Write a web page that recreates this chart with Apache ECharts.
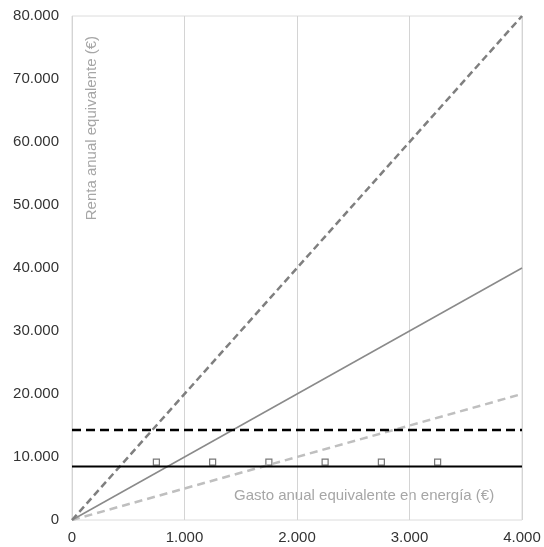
<!DOCTYPE html>
<html><head><meta charset="utf-8">
<script src="https://cdn.jsdelivr.net/npm/echarts@6/dist/echarts.min.js"></script>
<style>html,body{margin:0;padding:0;background:#fff}#c{width:544px;height:547px}</style>
</head><body><div id="c"></div>
<script>
const xTicks = [0, 1000, 2000, 3000, 4000];
const yTicks = [0, 10000, 20000, 30000, 40000, 50000, 60000, 70000, 80000];
const lineX = [0, 4000];
const steepDashed = [0, 80000];
const midSolid = [0, 40000];
const lowDashed = [0, 20000];
const blackDashed = [14300, 14300];
const blackSolid = [8500, 8500];
const markerX = [750, 1250, 1750, 2250, 2750, 3250];
const markerY = [9200, 9200, 9200, 9200, 9200, 9200];
const yTitle = 'Renta anual equivalente (€)';
const xTitle = 'Gasto anual equivalente en energía (€)';

const fmt = v => String(v).replace(/\B(?=(\d{3})+(?!\d))/g, '.');
const pairs = (xs, ys) => xs.map((x, i) => [x, ys[i]]);

const chart = echarts.init(document.getElementById('c'));
chart.setOption({
  animation: false,
  grid: {left: 72, right: 22, top: 16, bottom: 27, show: true, borderColor: '#dcdcdc', borderWidth: 1},
  xAxis: {type: 'value', min: xTicks[0], max: xTicks[xTicks.length-1], interval: 1000,
    axisLine: {show: false}, axisTick: {show: false},
    splitLine: {show: true, lineStyle: {color: '#d4d4d4', width: 1}},
    axisLabel: {formatter: fmt, color: '#333', fontSize: 15, fontFamily: 'Liberation Sans', margin: 10}},
  yAxis: {type: 'value', min: yTicks[0], max: yTicks[yTicks.length-1], interval: 10000,
    axisLine: {show: false}, axisTick: {show: false}, splitLine: {show: false},
    axisLabel: {formatter: fmt, color: '#333', fontSize: 15, fontFamily: 'Liberation Sans', margin: 13}},
  series: [
    {type: 'line', data: pairs(lineX, lowDashed), symbol: 'none', lineStyle: {color: '#bfbfbf', width: 2.5, type: [8, 5]}},
    {type: 'line', data: pairs(lineX, midSolid), symbol: 'none', lineStyle: {color: '#8a8a8a', width: 1.5}},
    {type: 'line', data: pairs(lineX, steepDashed), symbol: 'none', lineStyle: {color: '#7f7f7f', width: 2.5, type: [7, 4]}},
    {type: 'line', data: pairs(lineX, blackDashed), symbol: 'none', lineStyle: {color: '#000', width: 2.5, type: [9, 5]}},
    {type: 'line', data: pairs(lineX, blackSolid), symbol: 'none', lineStyle: {color: '#000', width: 2}},
    {type: 'scatter', data: pairs(markerX, markerY), symbol: 'rect', symbolSize: 6,
      itemStyle: {color: '#fff', borderColor: '#555', borderWidth: 1.2}}
  ],
  graphic: [
    {type: 'text', left: 84, top: 36, rotation: Math.PI/2,
      style: {text: yTitle, fill: '#a6a6a6', font: '15px Liberation Sans'}},
    {type: 'text', left: 234, top: 488,
      style: {text: xTitle, fill: '#a6a6a6', font: '15px Liberation Sans'}}
  ]
});
</script></body></html>
